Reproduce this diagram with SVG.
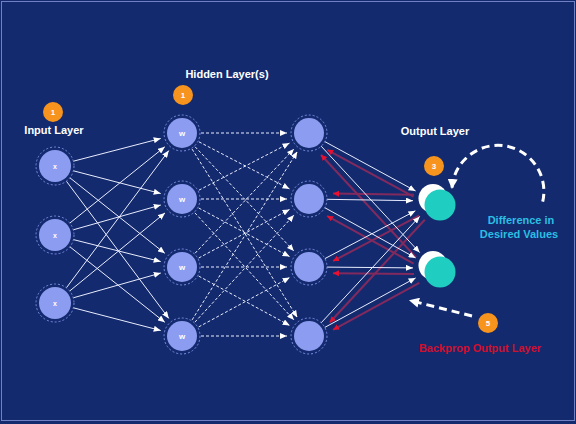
<svg xmlns="http://www.w3.org/2000/svg" width="576" height="424" viewBox="0 0 576 424">
<style>
.bg{fill:#142a6e}
.frame{fill:none;stroke:#7080c0;stroke-width:1}
.node{fill:#8c9cf0}
.ring{fill:none;stroke:#7a8ce0;stroke-width:1;stroke-dasharray:2 2}
.lbl{font-family:"Liberation Sans",Arial,sans-serif;font-weight:bold;fill:#ffffff;text-anchor:middle}
.title{font-family:"Liberation Sans",Arial,sans-serif;font-weight:bold;font-size:11px;fill:#ffffff;text-anchor:middle}
.badge{fill:#f7941d}
.btxt{font-family:"Liberation Sans",Arial,sans-serif;font-weight:bold;font-size:8px;fill:#ffffff;text-anchor:middle}
.solid{stroke:#e8ecff;stroke-width:1;fill:none;marker-end:url(#aw)}
.dash{stroke:#e8ecff;stroke-width:1;fill:none;stroke-dasharray:3 2;marker-end:url(#aw)}
.red{stroke:#822a5e;stroke-width:2;fill:none;marker-end:url(#ar)}
.big{stroke:#ffffff;stroke-width:3;fill:none;stroke-dasharray:8 5;marker-end:url(#ab)}
</style>
<defs>
<marker id="aw" markerUnits="userSpaceOnUse" markerWidth="7" markerHeight="6" refX="7" refY="3" orient="auto"><path d="M0,0 L7,3 L0,6 z" fill="#ffffff"/></marker>
<marker id="ar" markerUnits="userSpaceOnUse" markerWidth="6" markerHeight="6" refX="6" refY="3" orient="auto"><path d="M0,0 L6,3 L0,6 z" fill="#e8102e"/></marker>
<marker id="ab" markerUnits="userSpaceOnUse" markerWidth="10" markerHeight="10" refX="9" refY="5" orient="auto"><path d="M0,0 L10,5 L0,10 z" fill="#ffffff"/></marker>
</defs>
<rect class="bg" x="0" y="0" width="576" height="424"/>
<rect class="frame" x="1.5" y="1.5" width="573" height="419"/>

<g id="connectors">
<!-- input to hidden 1 -->
<line class="solid" x1="73.4" y1="161.2" x2="160.7" y2="138.5"/>
<line class="solid" x1="73.4" y1="170.8" x2="160.7" y2="193.5"/>
<line class="solid" x1="69.9" y1="177.8" x2="164.8" y2="253.3"/>
<line class="solid" x1="66.4" y1="181.2" x2="168.8" y2="318.4"/>
<line class="solid" x1="69.8" y1="223.1" x2="164.8" y2="146.8"/>
<line class="solid" x1="73.3" y1="229.8" x2="160.8" y2="205.0"/>
<line class="solid" x1="73.4" y1="239.6" x2="160.7" y2="261.6"/>
<line class="solid" x1="69.9" y1="246.8" x2="164.8" y2="322.3"/>
<line class="solid" x1="66.4" y1="287.8" x2="168.8" y2="150.6"/>
<line class="solid" x1="69.7" y1="291.0" x2="165.0" y2="212.9"/>
<line class="solid" x1="73.3" y1="297.8" x2="160.8" y2="273.0"/>
<line class="solid" x1="73.4" y1="307.8" x2="160.7" y2="330.5"/>
<!-- hidden 1 to hidden 2 -->
<line class="dash" x1="201" y1="133" x2="287" y2="133"/>
<line class="dash" x1="198.9" y1="141.8" x2="289.5" y2="188.9"/>
<line class="dash" x1="195.1" y1="146.8" x2="293.9" y2="251.0"/>
<line class="dash" x1="192.1" y1="149.1" x2="297.3" y2="317.4"/>
<line class="dash" x1="198.9" y1="190.2" x2="289.5" y2="143.1"/>
<line class="dash" x1="201" y1="199" x2="287" y2="199"/>
<line class="dash" x1="198.7" y1="208.0" x2="289.6" y2="256.6"/>
<line class="dash" x1="194.9" y1="212.9" x2="294.0" y2="319.9"/>
<line class="dash" x1="195.1" y1="253.2" x2="293.9" y2="149.0"/>
<line class="dash" x1="198.7" y1="258.0" x2="289.6" y2="209.4"/>
<line class="dash" x1="201" y1="267" x2="287" y2="267"/>
<line class="dash" x1="198.7" y1="276.1" x2="289.7" y2="325.5"/>
<line class="dash" x1="192.1" y1="319.9" x2="297.3" y2="151.6"/>
<line class="dash" x1="194.9" y1="322.1" x2="294.0" y2="215.1"/>
<line class="dash" x1="198.7" y1="326.9" x2="289.7" y2="277.5"/>
<line class="dash" x1="201" y1="336" x2="287" y2="336"/>
<!-- backprop red lines output to hidden 2 -->
<line class="red" x1="413.5" y1="196.7" x2="327.2" y2="149.8"/>
<line class="red" x1="416.0" y1="257.4" x2="320.9" y2="154.7"/>
<line class="red" x1="414" y1="194.7" x2="333" y2="193.6"/>
<line class="red" x1="413.6" y1="263.6" x2="327.1" y2="215.9"/>
<line class="red" x1="419.1" y1="215.7" x2="333.0" y2="261.1"/>
<line class="red" x1="414" y1="274" x2="333" y2="273.2"/>
<line class="red" x1="424.8" y1="219.8" x2="329.7" y2="322.5"/>
<line class="red" x1="419.3" y1="282.9" x2="333.0" y2="329.8"/>
<!-- hidden 2 to output -->
<line class="solid" x1="324.8" y1="141.6" x2="415.6" y2="191.0"/>
<line class="solid" x1="321.2" y1="146.2" x2="419.7" y2="252.6"/>
<line class="solid" x1="327" y1="199.3" x2="413" y2="200.7"/>
<line class="solid" x1="324.8" y1="207.7" x2="415.6" y2="257.9"/>
<line class="solid" x1="324.9" y1="258.6" x2="415.4" y2="210.8"/>
<line class="solid" x1="327" y1="267.1" x2="413" y2="267.9"/>
<line class="solid" x1="321.2" y1="322.8" x2="419.7" y2="216.4"/>
<line class="solid" x1="324.8" y1="327.4" x2="415.6" y2="277.9"/>
<!-- difference loop and backprop arrow -->
<path class="big" d="M 542.7 201.7 A 46 46 0 1 0 452 188"/>
<line class="big" x1="472" y1="316" x2="410" y2="300.5"/>
</g>

<g id="input-1"><circle class="ring" cx="55" cy="166" r="19"/><circle class="node" cx="55" cy="166" r="16"/><text class="lbl" x="55" y="168.5" font-size="7">x</text></g>
<g id="input-2"><circle class="ring" cx="55" cy="235" r="19"/><circle class="node" cx="55" cy="235" r="16"/><text class="lbl" x="55" y="237.5" font-size="7">x</text></g>
<g id="input-3"><circle class="ring" cx="55" cy="303" r="19"/><circle class="node" cx="55" cy="303" r="16"/><text class="lbl" x="55" y="305.5" font-size="7">x</text></g>

<g id="hidden1-1"><circle class="ring" cx="182" cy="133" r="18"/><circle class="node" cx="182" cy="133" r="15"/><text class="lbl" x="182" y="136" font-size="8">w</text></g>
<g id="hidden1-2"><circle class="ring" cx="182" cy="199" r="18"/><circle class="node" cx="182" cy="199" r="15"/><text class="lbl" x="182" y="202" font-size="8">w</text></g>
<g id="hidden1-3"><circle class="ring" cx="182" cy="267" r="18"/><circle class="node" cx="182" cy="267" r="15"/><text class="lbl" x="182" y="270" font-size="8">w</text></g>
<g id="hidden1-4"><circle class="ring" cx="182" cy="336" r="18"/><circle class="node" cx="182" cy="336" r="15"/><text class="lbl" x="182" y="339" font-size="8">w</text></g>

<g id="hidden2-1"><circle class="ring" cx="309" cy="133" r="18"/><circle class="node" cx="309" cy="133" r="15"/></g>
<g id="hidden2-2"><circle class="ring" cx="309" cy="199" r="18"/><circle class="node" cx="309" cy="199" r="15"/></g>
<g id="hidden2-3"><circle class="ring" cx="309" cy="267" r="18"/><circle class="node" cx="309" cy="267" r="15"/></g>
<g id="hidden2-4"><circle class="ring" cx="309" cy="336" r="18"/><circle class="node" cx="309" cy="336" r="15"/></g>

<g id="output-1"><circle cx="433" cy="198.5" r="14.5" fill="#ffffff"/><circle cx="440" cy="205" r="15.5" fill="#1fcdc1"/></g>
<g id="output-2"><circle cx="433" cy="265.5" r="14.5" fill="#ffffff"/><circle cx="440" cy="272" r="15.5" fill="#1fcdc1"/></g>

<g id="badge-input"><circle class="badge" cx="53" cy="112" r="10"/><text class="btxt" x="53" y="115">1</text></g>
<g id="badge-hidden"><circle class="badge" cx="183" cy="95" r="10"/><text class="btxt" x="183" y="98">1</text></g>
<g id="badge-output"><circle class="badge" cx="434" cy="166" r="10"/><text class="btxt" x="434" y="169">3</text></g>
<g id="badge-backprop"><circle class="badge" cx="488" cy="323" r="10"/><text class="btxt" x="488" y="326">5</text></g>

<g id="labels">
<text class="title" x="54" y="134" font-size="9.5px">Input Layer</text>
<text class="title" x="227" y="78">Hidden Layer(s)</text>
<text class="title" x="435" y="134.5">Output Layer</text>
<text class="title" x="521" y="224" style="fill:#2bbfe3">Difference in</text>
<text class="title" x="519" y="237.5" style="fill:#2bbfe3">Desired Values</text>
<text class="title" x="480" y="352" style="fill:#d0102e">Backprop Output Layer</text>
</g>
</svg>
